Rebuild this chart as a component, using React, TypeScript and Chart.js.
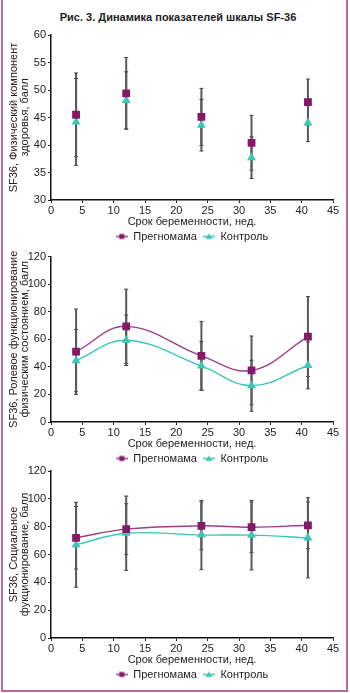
import React, { useEffect, useRef } from "react";
import { Chart, registerables } from "chart.js";

Chart.register(...registerables);

const FONT = '"Liberation Sans", Arial, Helvetica, sans-serif';
const TEXT = "#222222";
const PURPLE_MARK = "#86186a";
const PURPLE_LINE = "#9c3d8a";
const TEAL = "#3cc7b5";
const BAR = "#5a5a5a";
const FRAME = "#b868a6";

const figureTitle = "Рис. 3. Динамика показателей шкалы SF-36";
const seriesNames = ["Прегномама", "Контроль"];
const xAxisTitle = "Срок беременности, нед.";
const weeks = [4, 12, 24, 32, 41];

// Panel 1: physical component
const physTitle = ["SF36, Физический компонент", "здоровья, балл"];
const physPreg = [45.5, 49.4, 45.1, 40.4, 47.8];
const physPregSd = [7.6, 6.5, 5.2, 5.0, 4.2];
const physCtrl = [44.2, 48.1, 43.6, 37.7, 44.0];
const physCtrlSd = [7.9, 5.2, 4.7, 3.8, 3.4];

// Panel 2: role functioning (physical)
const roleTitle = ["SF36, Ролевое функционирование", "физическим состоянием, балл"];
const rolePreg = [51, 69.4, 48, 37.4, 62];
const rolePregSd = [31, 27, 25, 25, 29];
const roleCtrl = [44.6, 59.3, 40.7, 26.3, 41];
const roleCtrlSd = [22.6, 18.3, 17.6, 18.5, 17];

// Panel 3: social functioning
const socTitle = ["SF36, Социальное", "фукционирование, балл"];
const socPreg = [72, 78.2, 80.6, 79.6, 81];
const socPregSd = [22.5, 18.3, 17.2, 18.1, 16.8];
const socCtrl = [67, 75.3, 74, 73.9, 72];
const socCtrlSd = [30.5, 26.7, 24.9, 25, 28.8];

const errorBarPlugin = {
  id: "errorBars",
  beforeDatasetsDraw(chart: any, _args: any, opts: any) {
    const errs: number[][] = opts && opts.errors;
    if (!errs) return;
    const ctx = chart.ctx;
    const ys = chart.scales.y;
    ctx.save();
    chart.data.datasets.forEach((ds: any, i: number) => {
      const meta = chart.getDatasetMeta(i);
      meta.data.forEach((pt: any, j: number) => {
        const v = ds.data[j].y;
        const e = errs[i][j];
        const x = pt.x;
        const yLo = ys.getPixelForValue(v - e);
        const yHi = ys.getPixelForValue(v + e);
        ctx.strokeStyle = BAR;
        ctx.lineWidth = 2;
        ctx.beginPath();
        ctx.moveTo(x, yLo);
        ctx.lineTo(x, yHi);
        ctx.stroke();
        ctx.lineWidth = 1;
        ctx.strokeStyle = "#444";
        ctx.beginPath();
        ctx.moveTo(x - 2, yLo);
        ctx.lineTo(x + 2, yLo);
        ctx.moveTo(x - 2, yHi);
        ctx.lineTo(x + 2, yHi);
        ctx.stroke();
      });
    });
    ctx.restore();
  },
};

function legendImage(kind: "rect" | "triangle", lineColor: string, markColor: string) {
  const c = document.createElement("canvas");
  c.width = 12;
  c.height = 8;
  const g = c.getContext("2d")!;
  g.strokeStyle = lineColor;
  g.lineWidth = 1.5;
  g.beginPath();
  g.moveTo(0, 4);
  g.lineTo(12, 4);
  g.stroke();
  g.fillStyle = markColor;
  if (kind === "rect") {
    g.fillRect(3.5, 1.5, 5, 5);
  } else {
    g.beginPath();
    g.moveTo(6, 1);
    g.lineTo(9.5, 6.5);
    g.lineTo(2.5, 6.5);
    g.closePath();
    g.fill();
  }
  return c;
}

type PanelProps = {
  top: number;
  height: number;
  padTop: number;
  yMin: number;
  yMax: number;
  yStep: number;
  yTitle: string[];
  preg: number[];
  pregSd: number[];
  ctrl: number[];
  ctrlSd: number[];
  showLine: boolean;
};

function Panel(p: PanelProps) {
  const ref = useRef<HTMLCanvasElement | null>(null);
  useEffect(() => {
    if (!ref.current) return;
    const imgs = [
      legendImage("rect", PURPLE_LINE, PURPLE_MARK),
      legendImage("triangle", TEAL, TEAL),
    ];
    const chart = new Chart(ref.current, {
      type: "line",
      data: {
        datasets: [
          {
            label: seriesNames[0],
            data: weeks.map((w, i) => ({ x: w, y: p.preg[i] })),
            borderColor: PURPLE_LINE,
            backgroundColor: PURPLE_MARK,
            pointBackgroundColor: PURPLE_MARK,
            pointBorderColor: PURPLE_MARK,
            pointStyle: "rect",
            pointRadius: 4.5,
            borderWidth: 1.4,
            tension: 0.4,
            showLine: p.showLine,
          },
          {
            label: seriesNames[1],
            data: weeks.map((w, i) => ({ x: w, y: p.ctrl[i] })),
            borderColor: TEAL,
            backgroundColor: TEAL,
            pointBackgroundColor: TEAL,
            pointBorderColor: TEAL,
            pointStyle: "triangle",
            pointRadius: 3.8,
            borderWidth: 1.4,
            tension: 0.4,
            showLine: p.showLine,
          },
        ],
      },
      options: {
        responsive: false,
        animation: false,
        devicePixelRatio: 1,
        layout: { padding: { top: p.padTop, bottom: 0, left: 0, right: 17 }, autoPadding: false },
        scales: {
          x: {
            type: "linear",
            min: 0,
            max: 45,
            ticks: { stepSize: 5, color: TEXT, padding: 1, font: { family: FONT, size: 11 } },
            grid: { display: true, drawOnChartArea: false, drawTicks: true, tickLength: 3, color: "#222" },
            border: { display: true, color: "#111", width: 1.5 },
            title: {
              display: true,
              text: xAxisTitle,
              color: TEXT,
              font: { family: FONT, size: 11, lineHeight: 0.5 },
              padding: 0,
            },
            afterFit: (s: any) => {
              s.height = 25;
            },
          },
          y: {
            type: "linear",
            min: p.yMin,
            max: p.yMax,
            ticks: { stepSize: p.yStep, color: TEXT, padding: 2, font: { family: FONT, size: 11 } },
            grid: { display: true, drawOnChartArea: false, drawTicks: true, tickLength: 3, color: "#222" },
            border: { display: true, color: "#111", width: 1.5 },
            title: {
              display: true,
              text: p.yTitle,
              color: TEXT,
              font: { family: FONT, size: 11, lineHeight: 1.05 },
              padding: { top: 8, bottom: 0 },
            },
            afterFit: (s: any) => {
              s.width = 51;
            },
          },
        },
        plugins: {
          legend: {
            display: true,
            position: "bottom",
            fullSize: false,
            labels: {
              usePointStyle: true,
              pointStyleWidth: 12,
              padding: 6,
              color: TEXT,
              font: { family: FONT, size: 11 },
              generateLabels: (ch: any) =>
                ch.data.datasets.map((ds: any, i: number) => ({
                  text: ds.label,
                  pointStyle: imgs[i],
                  fillStyle: "transparent",
                  strokeStyle: "transparent",
                  lineWidth: 0,
                  hidden: false,
                  datasetIndex: i,
                  fontColor: TEXT,
                })),
            },
          },
          tooltip: { enabled: false },
          errorBars: { errors: [p.pregSd, p.ctrlSd] },
        } as any,
      },
      plugins: [errorBarPlugin],
    } as any);
    return () => chart.destroy();
  }, []);
  return (
    <canvas
      ref={ref}
      width={350}
      height={p.height}
      style={{ position: "absolute", left: 0, top: p.top, width: 350, height: p.height, display: "block" }}
    />
  );
}

export default function App() {
  return (
    <div style={{ position: "absolute", left: 0, top: 0, width: 350, height: 693, background: "#fff", overflow: "hidden" }}>
      <div
        style={{
          position: "absolute",
          left: 1,
          top: 0,
          width: 347,
          height: 692,
          boxSizing: "border-box",
          borderLeft: `2px solid ${FRAME}`,
          borderRight: `2px solid ${FRAME}`,
          borderBottom: `2px solid ${FRAME}`,
        }}
      />
      <div
        style={{
          position: "absolute",
          left: 0,
          top: 10,
          width: 356,
          textAlign: "center",
          fontFamily: FONT,
          fontWeight: "bold",
          fontSize: 11,
          lineHeight: "14px",
          color: TEXT,
        }}
      >
        {figureTitle}
      </div>
      <Panel top={26} height={226} padTop={9} yMin={30} yMax={60} yStep={5} yTitle={physTitle}
        preg={physPreg} pregSd={physPregSd} ctrl={physCtrl} ctrlSd={physCtrlSd} showLine={false} />
      <Panel top={248} height={226} padTop={8} yMin={0} yMax={120} yStep={20} yTitle={roleTitle}
        preg={rolePreg} pregSd={rolePregSd} ctrl={roleCtrl} ctrlSd={roleCtrlSd} showLine={true} />
      <Panel top={462} height={228} padTop={9} yMin={0} yMax={120} yStep={20} yTitle={socTitle}
        preg={socPreg} pregSd={socPregSd} ctrl={socCtrl} ctrlSd={socCtrlSd} showLine={true} />
    </div>
  );
}
